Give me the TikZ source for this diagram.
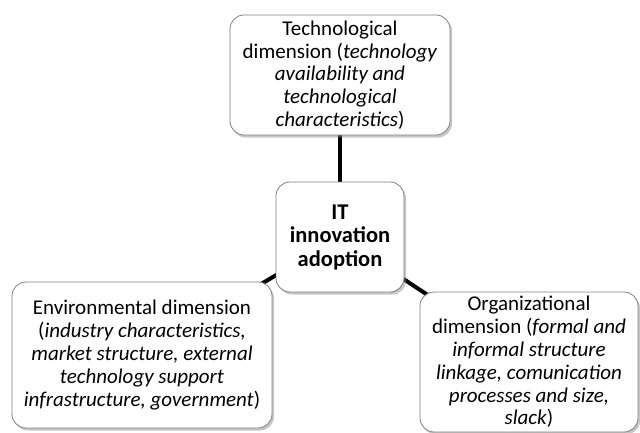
\documentclass[tikz,border=0pt]{standalone}
\usepackage{fontspec}
\setmainfont{Carlito}
\usepackage{tikz}
\usetikzlibrary{backgrounds,shadows}

\begin{document}
\begin{tikzpicture}[x=1pt,y=-1pt,
  dimbox/.style={draw=gray,line width=0.8pt,rounded corners=14pt,fill=white,
    drop shadow={opacity=0.45,shadow xshift=2pt,shadow yshift=-2.5pt},
    align=center,inner sep=0pt,font=\fontsize{21}{22.8}\selectfont},
  link/.style={line width=4pt,black}]
\useasboundingbox (0,0) rectangle (640,432);
\node[dimbox,minimum width=220pt,minimum height=120pt] (techno) at (340,75)
  {Technological\\dimension (\textit{technology}\\\textit{availability and}\\\textit{technological}\\\textit{characteristics})};
\node[dimbox,minimum width=128pt,minimum height=110pt,font=\fontsize{22.5}{23.5}\selectfont\bfseries] (adopt) at (340,237)
  {IT\\innovation\\adoption};
\node[dimbox,minimum width=260pt,minimum height=146pt] (environ) at (142,355)
  {Environmental dimension\\(\textit{industry characteristics,}\\\textit{market structure, external}\\\textit{technology support}\\\textit{infrastructure, government})};
\node[dimbox,minimum width=218pt,minimum height=140pt] (organiz) at (529,362)
  {Organizational\\dimension (\textit{formal and}\\\textit{informal structure}\\\textit{linkage, comunication}\\\textit{processes and size,}\\\textit{slack})};
\begin{scope}[on background layer]
\draw[link] (adopt.center) -- (techno.center);
\draw[link] (adopt.center) -- (environ.center);
\draw[link] (adopt.center) -- (organiz.center);
\end{scope}
\end{tikzpicture}
\end{document}
